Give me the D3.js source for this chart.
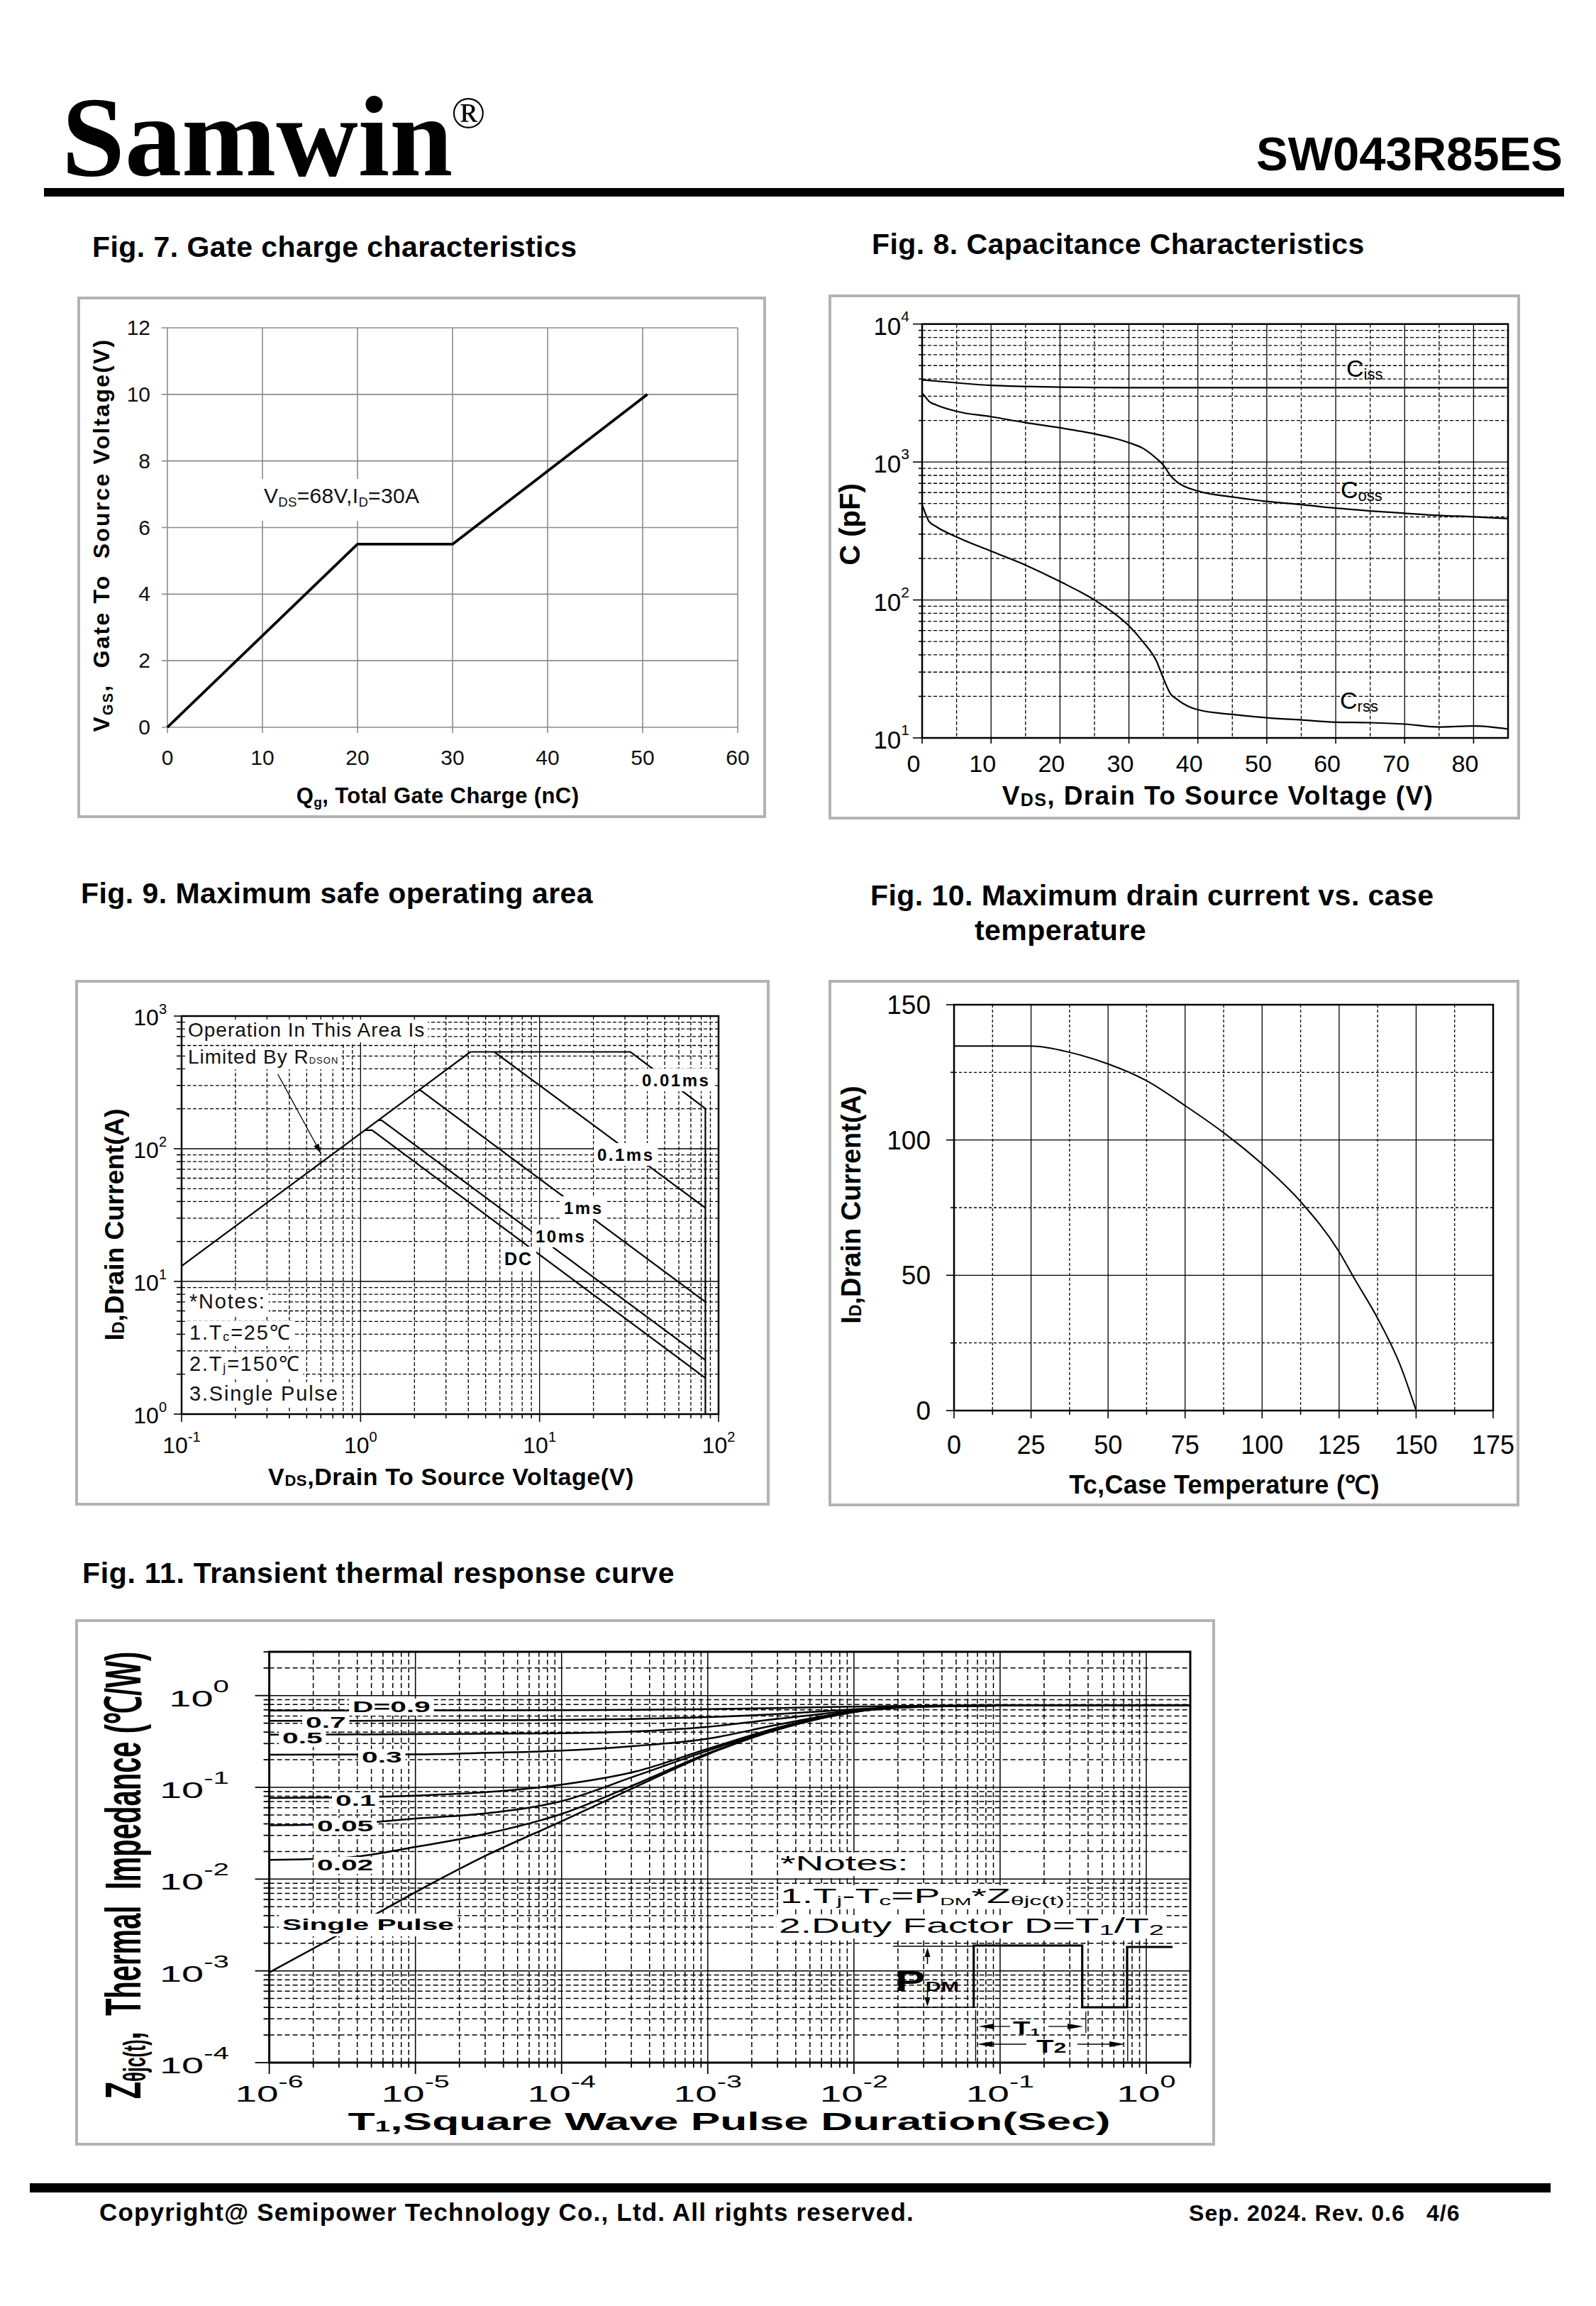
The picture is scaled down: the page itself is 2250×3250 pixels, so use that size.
<!DOCTYPE html>
<html><head><meta charset="utf-8">
<script src="https://cdn.jsdelivr.net/npm/d3@7"></script>
<style>body{margin:0;background:#fff}svg{display:block}</style>
</head><body>
<script>
// ---------------- DATA ----------------
// Fig 7 gate charge
const gcQ = [0, 20, 30, 50.5];
const gcV = [0, 5.5, 5.5, 10];
const gcXTicks = [0,10,20,30,40,50,60];
const gcYTicks = [0,2,4,6,8,10,12];

// Fig 8 capacitance
const capCissV = [0,5,10,15,20,25,30,40,50,60,70,80,85];
const capCiss  = [3940,3750,3590,3530,3490,3470,3460,3460,3460,3460,3460,3460,3460];
const capV     = [0,0.5,1,2,5,10,15,20,25,28,30,32,34,35,36,37,40,45,50,55,60,65,70,75,80,85];
const capCoss  = [3160,2950,2750,2600,2330,2130,1930,1770,1600,1480,1380,1260,1060,950,800,715,616,558,518,491,463,442,425,410,401,389];
const capCrss  = [491,420,371,341,286,226,179,136,100,79,65,50,36,27,21,19,16,14.8,14.0,13.5,13.0,12.9,12.6,12.0,12.2,11.6];
const capXTicks = [0,10,20,30,40,50,60,70,80];
const capYExp = [1,2,3,4];

// Fig 9 safe operating area
const soaRdsonV = [0.1, 4.11],   soaRdsonI = [13.06, 537];
const soa001V = [4.11, 32.1, 84.4, 84.4], soa001I = [537, 537, 201, 1];
const soa01V  = [5.58, 84.4],   soa01I  = [537, 35.8];
const soa1V   = [2.11, 2.16, 84.4], soa1I = [276, 276, 7.0];
const soa10V  = [1.256, 1.31, 84.4], soa10I = [164, 164, 2.55];
const soaDCV  = [1.057, 1.16, 84.4], soaDCI = [138, 138, 1.87];
const soaXExp = [-1,0,1,2];
const soaYExp = [0,1,2,3];

// Fig 10 drain current vs case temperature
const idT = [0,25,37.5,50,62.5,75,87.5,100,112.5,125,130,137.5,145,150];
const idI = [134.7,134.7,132.4,128.1,121.9,112.7,102.7,91.1,77.2,58.7,48.7,34.1,16.3,0];
const idXTicks = [0,25,50,75,100,125,150,175];
const idYTicks = [0,50,100,150];

// Fig 11 transient thermal impedance
const zthT    = [1e-6,3.16e-6,1e-5,3.16e-5,1e-4,3.16e-4,1e-3,3.16e-3,1e-2,3.16e-2,0.1,1,2];
const zthD09  = [0.689,0.689,0.690,0.692,0.695,0.700,0.711,0.733,0.759,0.776,0.78,0.78,0.78];
const zthD07  = [0.530,0.531,0.535,0.537,0.543,0.556,0.582,0.631,0.708,0.771,0.78,0.78,0.78];
const zthD05  = [0.376,0.377,0.380,0.384,0.389,0.407,0.457,0.562,0.684,0.771,0.78,0.78,0.78];
const zthD03  = [0.227,0.228,0.229,0.238,0.251,0.282,0.339,0.490,0.668,0.767,0.78,0.78,0.78];
const zthD01  = [0.0766,0.0776,0.0813,0.0891,0.107,0.148,0.263,0.457,0.676,0.773,0.78,0.78,0.78];
const zthD005 = [0.0386,0.0398,0.0457,0.0525,0.0708,0.132,0.251,0.447,0.676,0.767,0.78,0.78,0.78];
const zthD002 = [0.0162,0.0170,0.0224,0.0316,0.0513,0.107,0.234,0.437,0.661,0.759,0.78,0.78,0.78];
const zthSingle = [0.00096,0.0026,0.0072,0.0186,0.0427,0.100,0.229,0.437,0.661,0.759,0.78,0.78,0.78];
const zthXExp = [-6,-5,-4,-3,-2,-1,0];
const zthYExp = [-4,-3,-2,-1,0];

// ---------------- HELPERS ----------------
const FONT = "Arial, 'Liberation Sans', Helvetica, sans-serif";
const svg = d3.select('body').append('svg').attr('width',2250).attr('height',3250).attr('font-family',FONT);
svg.append('rect').attr('width',2250).attr('height',3250).attr('fill','#fff');

function T(parent, x, y, parts, o={}) {
  const size=o.size||30, sx=o.sx||1;
  let tr=`translate(${x},${y})`;
  if (sx!==1) tr+=` scale(${sx},1)`;
  if (o.rot) tr+=` rotate(${o.rot})`;
  const g=parent.append('g').attr('transform',tr);
  const rect=o.bg?g.append('rect').attr('fill','#fff'):null;
  const t=g.append('text').attr('text-anchor',o.anchor||'start').attr('font-size',size)
    .attr('font-weight',o.weight||'normal').attr('fill',o.fill||'#000').style('white-space','pre');
  if (o.ls) t.attr('letter-spacing',o.ls);
  if (o.family) t.attr('font-family',o.family);
  let cur=0;
  (Array.isArray(parts)?parts:[parts]).forEach(p=>{
    if (typeof p==='string') p={t:p};
    const fs=p.size||((p.sub||p.sup)?size*0.62:size);
    const off=p.dy!==undefined?p.dy:(p.sub?size*0.15:(p.sup?-size*0.45:0));
    t.append('tspan').attr('font-size',fs).attr('dy',off-cur).text(p.t);
    cur=off;
  });
  if (rect) {
    const b=t.node().getBBox();
    const px=(o.padX!==undefined?o.padX:5)/sx;
    const top=o.bgTop!==undefined?o.bgTop:-size*0.8;
    const bot=o.bgBot!==undefined?o.bgBot:size*0.25;
    rect.attr('x',b.x-px).attr('width',b.width+2*px).attr('y',top).attr('height',bot-top);
  }
  return g;
}
function logVals(lo,hi){
  const out=[];
  for(let e=Math.floor(Math.log10(lo))-1;e<=Math.ceil(Math.log10(hi));e++){
    for(let k=1;k<=9;k++){const v=+(k*Math.pow(10,e)).toPrecision(6);
      if(v>=lo*0.9999&&v<=hi*1.0001) out.push({v,major:k===1});}
  }
  return out;
}
function vline(g,x,y1,y2,w,dash,col){g.append('line').attr('x1',x).attr('x2',x).attr('y1',y1).attr('y2',y2)
  .attr('stroke',col||'#000').attr('stroke-width',w).attr('stroke-dasharray',dash||null);}
function hline(g,y,x1,x2,w,dash,col){g.append('line').attr('x1',x1).attr('x2',x2).attr('y1',y).attr('y2',y)
  .attr('stroke',col||'#000').attr('stroke-width',w).attr('stroke-dasharray',dash||null);}
function panel(x,y,w,h){svg.append('rect').attr('x',x).attr('y',y).attr('width',w).attr('height',h)
  .attr('fill','none').attr('stroke','#b3b3b3').attr('stroke-width',4);}
function border(g,x1,y1,x2,y2,w){g.append('rect').attr('x',x1).attr('y',y1).attr('width',x2-x1).attr('height',y2-y1)
  .attr('fill','none').attr('stroke','#000').attr('stroke-width',w);}
function path(g,xs,ys,sx,sy,w,curve){
  const pts=xs.map((v,i)=>[v,ys[i]]);
  const ln=d3.line().x(d=>sx(d[0])).y(d=>sy(d[1]));
  if(curve) ln.curve(curve);
  g.append('path').attr('d',ln(pts)).attr('fill','none').attr('stroke','#000').attr('stroke-width',w)
    .attr('stroke-linejoin','round');
}
function arrowHead(g,tipX,tipY,dir,len,half){
  let p;
  if(dir==='l') p=[[tipX,tipY],[tipX+len,tipY-half],[tipX+len,tipY+half]];
  if(dir==='r') p=[[tipX,tipY],[tipX-len,tipY-half],[tipX-len,tipY+half]];
  if(dir==='u') p=[[tipX,tipY],[tipX-half,tipY+len],[tipX+half,tipY+len]];
  if(dir==='d') p=[[tipX,tipY],[tipX-half,tipY-len],[tipX+half,tipY-len]];
  g.append('path').attr('d','M'+p.map(q=>q.join(',')).join('L')+'Z').attr('fill','#000');
}

// ---------------- HEADER / FOOTER ----------------
T(svg,87,247,'Samwin',{size:160,weight:'bold',family:"'Liberation Serif','Times New Roman',serif"});
T(svg,636,180,'®',{size:64,family:"'Liberation Serif','Times New Roman',serif"});
T(svg,2203,240,'SW043R85ES',{size:67,weight:'bold',anchor:'end'});
svg.append('rect').attr('x',62).attr('y',265).attr('width',2143).attr('height',12).attr('fill','#000');
svg.append('rect').attr('x',42).attr('y',3077).attr('width',2144).attr('height',13).attr('fill','#000');
T(svg,140,3130,'Copyright@ Semipower Technology Co., Ltd. All rights reserved.',{size:35,weight:'bold',ls:1.2});
T(svg,1676,3130,'Sep. 2024. Rev. 0.6   4/6',{size:32,weight:'bold',ls:1.1});

// titles
const tt={size:41,weight:'bold',ls:0.45};
T(svg,130,362,'Fig. 7. Gate charge characteristics',tt);
T(svg,1229,358,'Fig. 8. Capacitance Characteristics',tt);
T(svg,114,1273,'Fig. 9. Maximum safe operating area',tt);
T(svg,1227,1276,'Fig. 10. Maximum drain current vs. case',tt);
T(svg,1374,1325,'temperature',tt);
T(svg,116,2231,'Fig. 11. Transient thermal response curve',{size:41,weight:'bold',ls:0.7});

// ---------------- FIG 7 ----------------
{
  const g=svg.append('g');
  panel(111,420,967,731);
  const x=d3.scaleLinear([0,60],[236,1040]), y=d3.scaleLinear([0,12],[1025,462]);
  const gc='#8c8c8c';
  gcXTicks.forEach(v=>{vline(g,x(v),y(12),y(0)+8,1.6,null,gc);});
  gcYTicks.forEach(v=>{hline(g,y(v),x(0)-8,x(60),1.6,null,gc);});
  T(g,372,709,['V',{t:'DS',sub:true},'=68V,I',{t:'D',sub:true},'=30A'],{size:30,ls:0.3,bg:true,bgTop:-34,bgBot:25,padX:6,fill:'#111'});
  path(g,gcQ,gcV,x,y,3.8);
  gcXTicks.forEach(v=>T(g,x(v),1078,String(v),{size:30,anchor:'middle',fill:'#111'}));
  gcYTicks.forEach(v=>T(g,212,y(v)+10,String(v),{size:30,anchor:'end',fill:'#111'}));
  T(g,617,1132,['Q',{t:'g',sub:true},', Total Gate Charge (nC)'],{size:31,weight:'bold',anchor:'middle',ls:0.4});
  T(g,154,754,['V',{t:'GS',sub:true},',  Gate To  Source Voltage(V)'],{size:32,weight:'bold',anchor:'middle',rot:-90,ls:2.2});
}

// ---------------- FIG 8 ----------------
{
  const g=svg.append('g');
  panel(1170,417,971,736);
  const x=d3.scaleLinear([0,85],[1300,2126]), y=d3.scaleLog([10,10000],[1040,456.7]);
  for(let v=5;v<85;v+=5){vline(g,x(v),y(10000),y(10),1.3,v%10===0?null:'5,3');}
  logVals(10,10000).forEach(d=>{ if(d.v>10&&d.v<10000) hline(g,y(d.v),x(0),x(85),1.3,d.major?null:'5,3');
    hline(g,y(d.v),x(0)-(d.major?13:5),x(0),1.6);});
  capXTicks.forEach(v=>vline(g,x(v),y(10),y(10)+8,1.6));
  path(g,capCissV,capCiss,x,y,2.2,d3.curveMonotoneX);
  path(g,capV,capCoss,x,y,2.2,d3.curveMonotoneX);
  path(g,capV,capCrss,x,y,2.2,d3.curveMonotoneX);
  border(g,x(0),y(10000),x(85),y(10),2.5);
  capXTicks.forEach(v=>T(g,x(v)-12,1088,String(v),{size:34,anchor:'middle'}));
  capYExp.forEach(e=>T(g,1282,y(Math.pow(10,e))+15,['10',{t:String(e),size:21,dy:-19}],{size:35,anchor:'end'}));
  T(g,1898,531,['C',{t:'iss',size:22,dy:4}],{size:34});
  T(g,1890,702,['C',{t:'oss',size:22,dy:4}],{size:34});
  T(g,1889,999,['C',{t:'rss',size:22,dy:4}],{size:34});
  T(g,1717,1134,['V',{t:'DS',size:25,dy:2},{t:', Drain To Source Voltage (V)',dy:0}],{size:37,weight:'bold',anchor:'middle',ls:1.4});
  T(g,1212,739,'C (pF)',{size:40,weight:'bold',anchor:'middle',rot:-90});
}

// ---------------- FIG 9 ----------------
{
  const g=svg.append('g');
  panel(108,1383,975,737);
  const x=d3.scaleLog([0.1,100],[256,1013]), y=d3.scaleLog([1,1000],[1993,1432]);
  logVals(0.1,100).forEach(d=>{ if(d.v>0.1&&d.v<100) vline(g,x(d.v),y(1000),y(1),1.3,d.major?null:'5,3');
    vline(g,x(d.v),y(1),y(1)+(d.major?11:6),1.6);});
  logVals(1,1000).forEach(d=>{ if(d.v>1&&d.v<1000) hline(g,y(d.v),x(0.1),x(100),1.3,d.major?null:'5,3');
    hline(g,y(d.v),x(0.1)-(d.major?11:7),x(0.1),1.6);});
  path(g,soaRdsonV,soaRdsonI,x,y,2.2);
  path(g,soa001V,soa001I,x,y,2.2);
  path(g,soa01V,soa01I,x,y,2.2);
  path(g,soa1V,soa1I,x,y,2.2);
  path(g,soa10V,soa10I,x,y,2.2);
  path(g,soaDCV,soaDCI,x,y,2.2);
  g.append('line').attr('x1',391.7).attr('y1',1514).attr('x2',452.6).attr('y2',1626).attr('stroke','#000').attr('stroke-width',1.3);
  {
    const ang=Math.atan2(1626-1514,452.6-391.7), L=14, h=4;
    const tx=452.6, ty=1626, bx=tx-L*Math.cos(ang), by=ty-L*Math.sin(ang);
    const p=[[tx,ty],[bx+h*Math.sin(ang),by-h*Math.cos(ang)],[bx-h*Math.sin(ang),by+h*Math.cos(ang)]];
    g.append('path').attr('d','M'+p.map(q=>q.join(',')).join('L')+'Z').attr('fill','#000');
  }
  const lb={size:24,weight:'bold',ls:2.5,bg:true,bgTop:-25,bgBot:7,padX:5};
  T(g,905,1531,'0.01ms',lb);
  T(g,842,1636,'0.1ms',lb);
  T(g,795,1711,'1ms',lb);
  T(g,755,1751,'10ms',lb);
  T(g,711,1783,'DC',{size:25,weight:'bold',ls:2,bg:true,bgTop:-26,bgBot:7,padX:5});
  const nb={size:28,ls:1,bg:true,bgTop:-24,bgBot:8,padX:4,fill:'#111'};
  T(g,265,1461,'Operation In This Area Is',nb);
  T(g,265,1499,['Limited By R',{t:'DSON',size:13,dy:0}],nb);
  const nb2={size:29,ls:1.8,bg:true,bgTop:-26,bgBot:9,padX:4,fill:'#111'};
  T(g,267,1844,'*Notes:',nb2);
  T(g,267,1888,['1.T',{t:'c',size:18,dy:2},{t:'=25℃',dy:0}],nb2);
  T(g,267,1932,['2.T',{t:'j',size:18,dy:2},{t:'=150℃',dy:0}],nb2);
  T(g,267,1974,'3.Single Pulse',nb2);
  border(g,x(0.1),y(1000),x(100),y(1),2.5);
  soaXExp.forEach(e=>T(g,x(Math.pow(10,e)),2048,['10',{t:String(e),size:20,dy:-16}],{size:32,anchor:'middle'}));
  soaYExp.forEach(e=>T(g,235,y(Math.pow(10,e))+13,['10',{t:String(e),size:20,dy:-16}],{size:32,anchor:'end'}));
  T(g,636,2093,['V',{t:'DS',size:22,dy:1},{t:',Drain To Source Voltage(V)',dy:0}],{size:34,weight:'bold',anchor:'middle',ls:0.6});
  T(g,174,1726,['I',{t:'D',size:23,dy:1},{t:',Drain Current(A)',dy:0}],{size:37,weight:'bold',anchor:'middle',rot:-90});
}

// ---------------- FIG 10 ----------------
{
  const g=svg.append('g');
  panel(1170,1383,970,738);
  const x=d3.scaleLinear([0,175],[1345,2105]), y=d3.scaleLinear([0,150],[1988,1416]);
  for(let v=12.5;v<175;v+=12.5){vline(g,x(v),y(150),y(0),1.3,v%25===0?null:'4,3');}
  for(let v=0;v<=175;v+=12.5){vline(g,x(v),y(0),y(0)+(v%25===0?11:6),1.6);}
  for(let v=25;v<150;v+=25){hline(g,y(v),x(0),x(175),1.3,v%50===0?null:'4,3');}
  for(let v=0;v<=150;v+=25){hline(g,y(v),x(0)-(v%50===0?11:5),x(0),1.6);}
  path(g,idT,idI,x,y,2,d3.curveMonotoneX);
  border(g,x(0),y(150),x(175),y(0),2.5);
  idXTicks.forEach(v=>T(g,x(v),2049,String(v),{size:36,anchor:'middle'}));
  idYTicks.forEach(v=>T(g,1312,y(v)+13,String(v),{size:37,anchor:'end'}));
  T(g,1726,2105,'Tc,Case Temperature (℃)',{size:36,weight:'bold',anchor:'middle',ls:0.3});
  T(g,1213,1698,['I',{t:'D',size:23,dy:1},{t:',Drain Current(A)',dy:0}],{size:38,weight:'bold',anchor:'middle',rot:-90});
}

// ---------------- FIG 11 ----------------
{
  const g=svg.append('g');
  panel(108,2284,1603,738);
  const x=d3.scaleLog([1e-6,2],[379.6,1678]), y=d3.scaleLog([1e-4,3],[2907,2328]);
  logVals(1e-6,2).forEach(d=>{ if(d.v>1e-6&&d.v<2) vline(g,x(d.v),y(3),y(1e-4),1.5,d.major?null:'7,4');
    vline(g,x(d.v),y(1e-4),y(1e-4)+(d.major?16:7),1.8);});
  logVals(1e-4,3).forEach(d=>{ if(d.v>1e-4&&d.v<3) hline(g,y(d.v),x(1e-6),x(2),1.5,d.major?null:'7,4');
    hline(g,y(d.v),x(1e-6)-(d.major?20:8),x(1e-6),1.8);});
  [zthD09,zthD07,zthD05,zthD03,zthD01,zthD005,zthD002,zthSingle].forEach(s=>path(g,zthT,s,x,y,2.5,d3.curveMonotoneX));
  const cl={size:22,weight:'bold',sx:1.85,bg:true,bgTop:-19,bgBot:5,padX:5};
  T(g,497,2413,'D=0.9',cl);
  T(g,431,2435,'0.7',cl);
  T(g,398,2457,'0.5',cl);
  T(g,510,2484,'0.3',cl);
  T(g,473,2545,'0.1',cl);
  T(g,447,2581,'0.05',cl);
  T(g,447,2636,'0.02',cl);
  T(g,398,2720,'Single Pulse',{size:22,weight:'bold',sx:1.85,bg:true,bgTop:-23,bgBot:9,padX:5});
  const nt={size:29,sx:1.9,bg:true,bgTop:-25,bgBot:8,padX:3};
  T(g,1100,2636,'*Notes:',nt);
  T(g,1100,2682,['1.T',{t:'j',size:18,dy:3},{t:'-T',dy:0},{t:'c',size:18,dy:3},{t:'=P',dy:0},{t:'DM',size:15,dy:3},{t:'*Z',dy:0},{t:'θjc(t)',size:18,dy:3}],nt);
  T(g,1098,2724,['2.Duty Factor D=T',{t:'1',size:20,dy:3},{t:'/T',dy:0},{t:'2',size:20,dy:3}],nt);
  const pd=g.append('g');
  hline(pd,2743,1259,1372,1.4); hline(pd,2829,1259,1372,1.4);
  pd.append('path').attr('d','M1372.7,2829 V2742 H1525.7 V2829 H1589 V2744 H1653').attr('fill','none')
    .attr('stroke','#000').attr('stroke-width',3.2);
  vline(pd,1307.5,2756,2768,1.6); arrowHead(pd,1307.5,2745,'u',13,4);
  vline(pd,1307.5,2806,2816,1.6); arrowHead(pd,1307.5,2828,'d',13,4);
  T(pd,1262,2806,['P',{t:'DM',size:19,dy:0}],{size:40,weight:'bold',sx:1.6});
  vline(pd,1375.4,2833,2905,1.3); vline(pd,1530.8,2835,2865,1.3); vline(pd,1589.8,2833,2905,1.3);
  hline(pd,2856,1398,1424,1.3); arrowHead(pd,1379.3,2856,'l',22,4);
  hline(pd,2856,1478,1508,1.3); arrowHead(pd,1527,2856,'r',22,4);
  T(pd,1428,2867,['T',{t:'1',size:15,dy:2}],{size:25,weight:'bold',sx:1.6});
  hline(pd,2881,1396,1447,1.3); arrowHead(pd,1377.4,2881,'l',22,4);
  hline(pd,2881,1519,1568,1.3); arrowHead(pd,1586,2881,'r',22,4);
  T(pd,1461,2893,['T',{t:'2',size:20,dy:0}],{size:25,weight:'bold',sx:1.6});
  border(g,x(1e-6),y(3),x(2),y(1e-4),3);
  zthXExp.forEach(e=>T(g,x(Math.pow(10,e)),2962,['10',{t:String(e),size:23,dy:-20}],{size:32,anchor:'middle',sx:1.72}));
  zthYExp.forEach(e=>T(g,323,y(Math.pow(10,e))+15,['10',{t:String(e),size:23,dy:-20}],{size:32,anchor:'end',sx:1.75}));
  T(g,1028,3002,['T',{t:'1',size:22,dy:2},{t:',Square Wave Pulse Duration(Sec)',dy:0}],{size:35,weight:'bold',anchor:'middle',sx:1.78});
  T(g,198,2643,['Z',{t:'θjc(t)',size:25,dy:4},{t:',  Thermal  Impedance (℃/W)',dy:0}],{size:40,weight:'bold',anchor:'middle',rot:-90,sx:1.75});
}
</script>
</body></html>
